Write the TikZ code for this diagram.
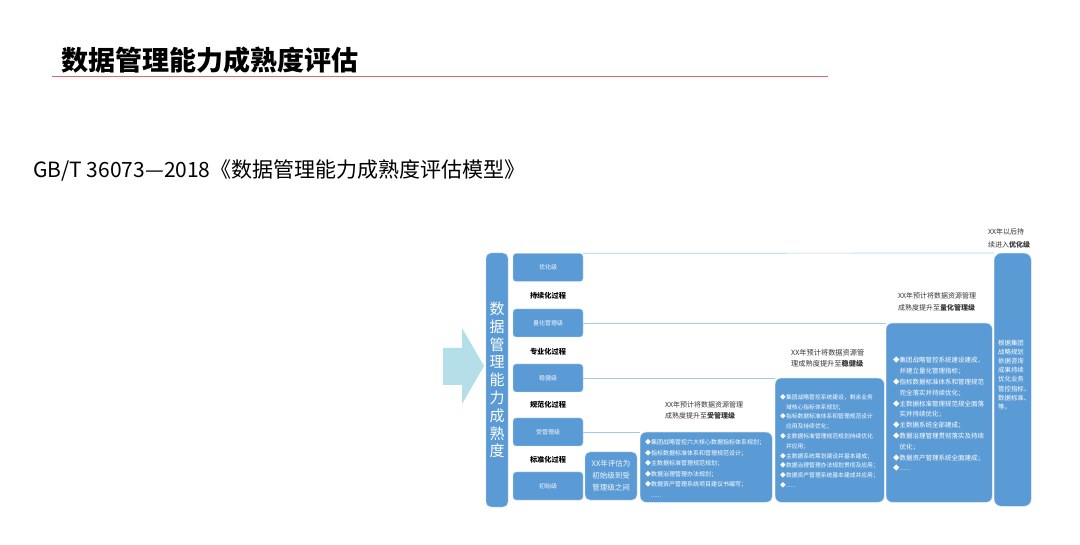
\documentclass[tikz,border=0pt]{standalone}
\usepackage{fontspec}
\setmainfont{Noto Sans CJK SC}
\usetikzlibrary{calc}
\definecolor{boxblue}{RGB}{91,155,213}
\definecolor{lineblue}{RGB}{165,203,234}
\definecolor{arrowcyan}{RGB}{180,222,232}
\definecolor{titlered}{RGB}{222,104,104}
\newcommand{\figunit}{1pt}
\newcommand{\bul}[1]{\makebox[1em][l]{◆}#1}
\newcommand{\cont}[1]{\hspace*{1em}#1}

\begin{document}
\begin{tikzpicture}[x=\figunit,y=-\figunit,
	levelbox/.style={draw=white!60!boxblue, fill=boxblue, rounded corners=3pt, minimum width=70pt, minimum height=28pt, inner sep=0pt, text=white!92!boxblue, font=\fontsize{6}{7}\selectfont},
	plan/.style={draw=white!60!boxblue, fill=boxblue, rounded corners=6pt, inner sep=0pt, anchor=north west},
	link/.style={draw=lineblue, line width=0.7pt},
	stagenote/.style={inner sep=0pt, font=\bfseries\fontsize{7.2}{9}\selectfont},
	planlist/.style={text=white, align=left, inner sep=0pt, anchor=north west},
	goalnote/.style={align=left, inner sep=0pt, anchor=north west, text=black!80, font=\fontsize{7}{11.5}\selectfont}]

	\useasboundingbox (0,0) rectangle (1080,545);

	% heading
	\node[anchor=west, inner sep=0pt, font=\bfseries\fontsize{27}{27}\selectfont] (title) at (61,60) {数据管理能力成熟度评估};
	\coordinate (rulel) at (52,77);
	\coordinate (ruler) at (828,77);
	\draw[titlered, line width=1pt] (rulel) -- (ruler);
	\node[anchor=west, inner sep=0pt, font=\fontsize{21}{21}\selectfont] (std) at (33,170) {GB/T 36073—2018《数据管理能力成熟度评估模型》};

	% arrow
	\fill[arrowcyan] (443,348) -- (462,348) -- (462,328) -- (484,366) -- (462,404) -- (462,385) -- (443,385) -- cycle;

	% maturity bar
	\node[fill=boxblue, draw=white!60!boxblue, rounded corners=5pt, minimum width=22pt, minimum height=254pt, inner sep=0pt, text=white, align=center, font=\fontsize{15}{17.8}\selectfont] (model) at (497,380) {数\\据\\管\\理\\能\\力\\成\\熟\\度};

	% levels
	\node[levelbox] (youhua) at (548,267.5) {优化级};
	\node[levelbox] (lianghua) at (548,323) {量化管理级};
	\node[levelbox] (wenjian) at (548,378) {稳健级};
	\node[levelbox] (shouguan) at (548,432) {受管理级};
	\node[levelbox] (chushi) at (548,486) {初始级};

	\node[stagenote] (chixu) at (548,296) {持续化过程};
	\node[stagenote] (zhuanye) at (548,352) {专业化过程};
	\node[stagenote] (guifan) at (548,405) {规范化过程};
	\node[stagenote] (biaozhun) at (548,460) {标准化过程};

	% current state
	\node[levelbox, minimum width=52pt, minimum height=48pt, rounded corners=5pt, align=center, font=\fontsize{7.5}{12}\selectfont] (pinggu) at (611,476) {XX年评估为\\初始级到受\\管理级之间};

	% plans
	\node[plan, minimum width=132pt, minimum height=70pt] (plan1) at (640,432) {};
	\node[plan, minimum width=109pt, minimum height=124pt] (plan2) at (775,378) {};
	\node[plan, minimum width=106pt, minimum height=179pt] (plan3) at (886,323) {};
	\node[plan, minimum width=37pt, minimum height=253pt, rounded corners=7pt] (goal) at (994,253) {};

	\draw[link] (youhua.north east) -- (goal.north west);
	\draw[link] (lianghua.east) -- (plan3.north west);
	\draw[link] (wenjian.east) -- (plan2.north west);
	\draw[link] (shouguan.east) -- (plan1.north west);

	\node[goalnote] (note1) at (665,401) {XX年预计将数据资源管理\\成熟度提升至\textbf{受管理级}};
	\node[goalnote, font=\fontsize{7.2}{11}\selectfont] (note2) at (791,349.5) {XX年预计将数据资源管\\理成熟度提升至\textbf{稳健级}};
	\node[goalnote] (note3) at (898,292.5) {XX年预计将数据资源管理\\成熟度提升至\textbf{量化管理级}};
	\node[goalnote, font=\fontsize{7}{12.5}\selectfont] (note4) at (988,228.5) {XX年以后持\\续进入\textbf{优化级}};

	\node[planlist, font=\fontsize{6}{10.6}\selectfont] (plan1text) at ($(plan1.north west)+(5,7)$) {%
		\bul{集团战略管控六大核心数据指标体系规划；}\\
		\bul{指标数据标准体系和管理规范设计；}\\
		\bul{主数据标准管理规范规划；}\\
		\bul{数据治理管理办法规划；}\\
		\bul{数据资产管理系统项目建议书编写；}\\
		\cont{......}};
	\node[planlist, font=\fontsize{5.8}{9.8}\selectfont] (plan2text) at ($(plan2.north west)+(5,16)$) {%
		\bul{集团战略管控系统建设，剩余业务}\\
		\cont{域核心指标体系规划；}\\
		\bul{指标数据标准体系和管理规范设计}\\
		\cont{应用及持续优化；}\\
		\bul{主数据标准管理规范规划持续优化}\\
		\cont{并应用；}\\
		\bul{主数据系统筹划建设并基本建成；}\\
		\bul{数据治理管理办法规划贯彻及应用；}\\
		\bul{数据资产管理系统基本建成并应用；}\\
		\bul{......}};
	\node[planlist, font=\fontsize{6.5}{10.8}\selectfont] (plan3text) at ($(plan3.north west)+(7,34)$) {%
		\bul{集团战略管控系统建设建成，}\\
		\cont{并建立量化管理指标；}\\
		\bul{指标数据标准体系和管理规范}\\
		\cont{完全落实并持续优化；}\\
		\bul{主数据标准管理规范规全面落}\\
		\cont{实并持续优化；}\\
		\bul{主数据系统全部建成；}\\
		\bul{数据治理管理贯彻落实及持续}\\
		\cont{优化；}\\
		\bul{数据资产管理系统全面建成；}\\
		\bul{......}};
	\node[planlist, font=\fontsize{6.4}{9.1}\selectfont] (goaltext) at ($(goal.north west)+(4,87)$) {%
		根据集团\\战略规划\\依据咨询\\成果持续\\优化业务\\管控指标、\\数据标准、\\等。};

\end{tikzpicture}
\end{document}
